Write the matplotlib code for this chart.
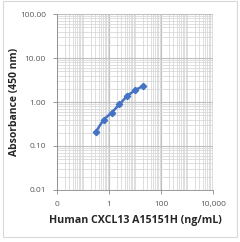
import matplotlib
matplotlib.use("Agg")
import matplotlib.pyplot as plt
from matplotlib.ticker import FixedLocator, LogLocator, NullFormatter
from matplotlib.patches import Rectangle

# data
conc = [0.3125, 0.625, 1.25, 2.5, 5, 10, 20]
absorb = [0.21, 0.40, 0.57, 0.88, 1.38, 1.85, 2.30]

x_ticks = [0.01, 1, 100, 10000]
x_labels = ["0", "1", "100", "10,000"]
y_ticks = [0.01, 0.1, 1, 10, 100]
y_labels = ["0.01", "0.10", "1.00", "10.00", "100.00"]

plt.rcParams['font.family'] = ['Open Sans', 'DejaVu Sans']

fig = plt.figure(figsize=(2.4, 2.42), dpi=100)
ax = fig.add_axes([0.2375, 0.215, 0.65, 0.727])

ax.set_xscale('log')
ax.set_yscale('log')
ax.set_xlim(0.01, 10000)
ax.set_ylim(0.01, 100)

ax.plot(conc, absorb, color='#4472C4', lw=1.8, marker='D', ms=3.2, zorder=3)

ax.xaxis.set_major_locator(FixedLocator(x_ticks))
ax.set_xticklabels(x_labels)
ax.yaxis.set_major_locator(FixedLocator(y_ticks))
ax.set_yticklabels(y_labels)
ax.xaxis.set_minor_locator(LogLocator(base=10, subs=range(1, 10), numticks=50))
ax.yaxis.set_minor_locator(LogLocator(base=10, subs=range(1, 10), numticks=50))
ax.xaxis.set_minor_formatter(NullFormatter())
ax.yaxis.set_minor_formatter(NullFormatter())

ax.grid(which='minor', color='#d9d9d9', lw=0.6)
ax.grid(which='major', color='#bfbfbf', lw=0.8)
ax.tick_params(which='minor', length=0)
ax.tick_params(which='major', length=3, width=0.6, color='#8c8c8c',
               labelsize=6, labelcolor='#595959', pad=5)

for side in ['top', 'right']:
    ax.spines[side].set_visible(False)
for side in ['left', 'bottom']:
    ax.spines[side].set_color('#8c8c8c')
    ax.spines[side].set_linewidth(0.6)

ax.set_xlabel('Human CXCL13 A15151H (ng/mL)', fontsize=7.7, fontweight='bold',
              color='#262626', labelpad=5)
ax.set_ylabel('Absorbance (450 nm)', fontsize=7.5, fontweight='bold',
              color='#262626')
ax.yaxis.set_label_coords(-0.237, 0.5)

# chart border
fig.patches.append(Rectangle((0.012, 0.02), 0.976, 0.975, transform=fig.transFigure,
                             fill=False, ec='#d9d9d9', lw=0.8))

fig.savefig('out.png', dpi=100)
